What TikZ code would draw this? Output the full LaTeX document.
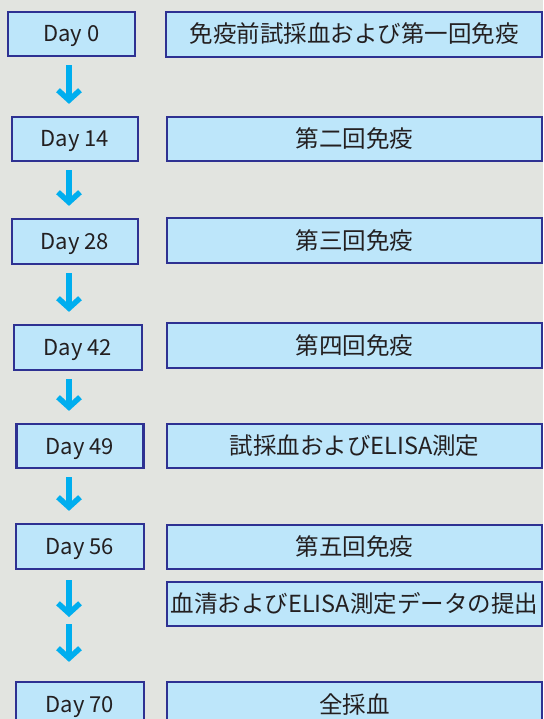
\documentclass[tikz,border=0pt]{standalone}
\usepackage{fontspec}
\setmainfont{Noto Sans CJK JP}
\usetikzlibrary{arrows.meta}

\definecolor{bgc}{RGB}{226,228,224}
\definecolor{boxfill}{RGB}{189,230,250}
\definecolor{boxline}{RGB}{46,49,146}
\definecolor{arrowc}{RGB}{0,174,239}
\definecolor{txt}{RGB}{35,31,32}

\tikzset{
  daybox/.style={draw=boxline, fill=boxfill, line width=2.2pt, text=txt,
    inner sep=0pt, minimum height=44pt, minimum width=127pt,
    text height=16pt, text depth=0pt,
    font=\fontsize{22}{26}\selectfont},
  taskbox/.style={daybox, minimum width=375pt, text height=17pt,
    font=\fontsize{23.5}{28}\selectfont},
  flow/.style={draw=arrowc, line width=5.5pt,
    -{Straight Barb[length=10pt,width=22pt]},
    shorten <=8pt, shorten >=12pt}
}

\begin{document}
\begin{tikzpicture}[x=1pt, y=-1pt]
        % Background
        \fill[bgc] (0,0) rectangle (543,719);
        \useasboundingbox (0,0) rectangle (543,719);

        % Days
        \node[daybox] (day0) at (71.5,34) {Day 0};
        \node[daybox, minimum width=126pt] (day14) at (75,139) {Day 14};
        \node[daybox, minimum width=126pt, minimum height=45pt] (day28) at (75,241.5) {Day 28};
        \node[daybox, minimum width=128pt, minimum height=45pt] (day42) at (78,347.5) {Day 42};
        \node[daybox] (day49) at (80,446) {Day 49};
        \node[daybox, minimum width=128pt, minimum height=45pt] (day56) at (80,546.5) {Day 56};
        \node[daybox, minimum width=128pt, minimum height=45pt] (day70) at (80,704.5) {Day 70};

        % Tasks
        \node[taskbox, minimum width=376pt, minimum height=45pt] (ev0) at (354,34.5) {免疫前試採血および第一回免疫};
        \node[taskbox] (ev14) at (354.5,139) {第二回免疫};
        \node[taskbox, minimum height=45pt] (ev28) at (354.5,240.5) {第三回免疫};
        \node[taskbox, minimum height=45pt] (ev42) at (354.5,345.5) {第四回免疫};
        \node[taskbox] (ev49) at (354.5,446) {試採血およびELISA測定};
        \node[taskbox] (ev56) at (354.5,547) {第五回免疫};
        \node[taskbox] (serum) at (354.5,604) {血清およびELISA測定データの提出};
        \node[taskbox, minimum height=45pt] (ev70) at (354.5,704.5) {全採血};

        % Arrows
        \coordinate (ax) at (69,0);
        \coordinate (gap) at (69,620.5);
        \draw[flow] (day0.south -| ax) -- (day14.north -| ax);
        \draw[flow] (day14.south -| ax) -- (day28.north -| ax);
        \draw[flow] (day28.south -| ax) -- (day42.north -| ax);
        \draw[flow] (day42.south -| ax) -- (day49.north -| ax);
        \draw[flow] (day49.south -| ax) -- (day56.north -| ax);
        \draw[flow, shorten <=10pt, shorten >=3.5pt] (day56.south -| ax) -- (gap);
        \draw[flow, shorten <=3.5pt, shorten >=19pt] (gap) -- (day70.north -| ax);
\end{tikzpicture}
\end{document}
